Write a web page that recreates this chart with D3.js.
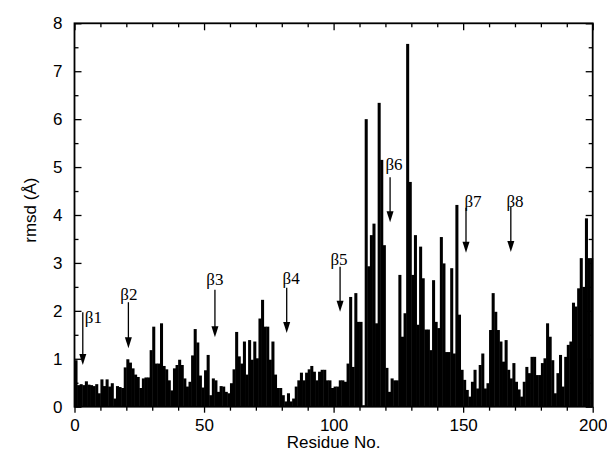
<!DOCTYPE html>
<html>
<head>
<meta charset="utf-8">
<script src="https://cdn.jsdelivr.net/npm/d3@7/dist/d3.min.js"></script>
<style>
	body { margin: 0; background: #fff; }
	.tick text { font-family: "Liberation Sans", Arial, sans-serif; font-size: 17px; fill: #000; }
	.domain { display: none; }
</style>
</head>
<body>
<div id="chart"></div>
<script>

// rmsd per residue (bar i covers residue i .. i+1)
var rmsd = [
	0.97, 0.45, 0.47, 0.45, 0.53, 0.46, 0.45, 0.43, 0.47, 0.28,
	0.57, 0.43, 0.57, 0.42, 0.49, 0.17, 0.43, 0.41, 0.39, 0.82,
	0.99, 0.92, 0.80, 0.67, 0.62, 0.39, 0.59, 0.61, 0.61, 1.18,
	1.67, 0.90, 0.90, 1.74, 0.85, 0.78, 0.55, 0.34, 0.80, 0.87,
	0.98, 0.87, 0.59, 0.42, 0.52, 1.07, 1.62, 1.34, 0.65, 0.40,
	0.76, 1.08, 0.24, 0.59, 0.55, 0.31, 0.43, 0.42, 0.31, 0.28,
	0.49, 0.78, 1.56, 1.05, 0.90, 1.36, 0.67, 1.39, 0.98, 1.36,
	1.01, 1.84, 2.23, 1.67, 1.67, 0.98, 1.36, 0.67, 0.39, 0.39,
	0.24, 0.11, 0.28, 0.11, 0.17, 0.42, 0.55, 0.71, 0.55, 0.71,
	0.78, 0.85, 0.73, 0.55, 0.73, 0.77, 0.77, 0.55, 0.55, 0.39,
	0.42, 0.42, 0.55, 0.55, 0.52, 0.90, 2.29, 0.83, 2.37, 1.77,
	1.77, 0.03, 6.00, 2.93, 3.58, 3.82, 1.74, 6.34, 5.15, 3.37,
	0.81, 0.31, 0.59, 0.55, 0.55, 2.75, 1.46, 1.95, 7.57, 4.69,
	2.75, 3.58, 1.71, 3.34, 2.68, 1.61, 1.61, 1.18, 2.64, 1.77,
	1.64, 3.54, 2.99, 1.14, 1.14, 2.89, 1.11, 4.21, 1.92, 0.77,
	0.56, 0.35, 0.21, 0.52, 0.77, 0.38, 0.87, 1.11, 0.38, 0.49,
	1.60, 2.37, 1.98, 1.60, 1.36, 0.94, 1.39, 0.77, 0.59, 0.91,
	0.52, 0.36, 0.21, 0.52, 0.83, 0.70, 1.04, 1.04, 0.66, 0.66,
	0.91, 1.01, 1.74, 1.46, 0.97, 0.28, 0.70, 1.08, 0.42, 1.04,
	1.29, 1.36, 2.17, 2.09, 2.47, 3.10, 2.50, 3.93, 3.10, 3.10
]

var xTicks = [0, 50, 100, 150, 200]
var xMinorTicks = [10, 20, 30, 40, 60, 70, 80, 90, 110, 120, 130, 140, 160, 170, 180, 190]
var yTicks = [0, 1, 2, 3, 4, 5, 6, 7, 8]
var yMinorTicks = [0.5, 1.5, 2.5, 3.5, 4.5, 5.5, 6.5, 7.5]

// beta strand annotations (data space)
var strandLabels = ["β1", "β2", "β3", "β4", "β5", "β6", "β7", "β8"]
var arrowRes = [3.2, 20.8, 54.2, 81.9, 102.5, 121.8, 151.1, 168.4]
var arrowTop = [1.97, 2.18, 2.44, 2.48, 2.92, 4.79, 4.15, 4.17]
var arrowTip = [0.87, 1.22, 1.45, 1.54, 1.98, 3.85, 3.21, 3.23]
var labelRes = [7.3, 21.0, 54.2, 83.6, 102.1, 123.3, 153.8, 170.0]
var labelVal = [1.75, 2.23, 2.54, 2.56, 2.96, 4.94, 4.17, 4.17]

var width = 607
var height = 461
var margin = {top: 23.3, right: 14.3, bottom: 54.3, left: 74.5}

var svg = d3.select("#chart").append("svg")
	.attr("width", width)
	.attr("height", height)

var x = d3.scaleLinear().domain([0, 200]).range([margin.left, width - margin.right])
var y = d3.scaleLinear().domain([0, 8]).range([height - margin.bottom, margin.top])

// bars, slight overlap so neighbours read as one solid mass
svg.append("g")
	.selectAll("rect")
	.data(rmsd)
	.enter().append("rect")
	.attr("x", function(d, i) { return x(i) })
	.attr("width", function(d, i) { return x(i + 1) - x(i) + 0.45 })
	.attr("y", function(d) { return y(d) })
	.attr("height", function(d) { return y(0) - y(d) })
	.attr("fill", "#000")

// axes: bottom ticks out, others in
svg.append("g")
	.attr("transform", "translate(0," + y(0) + ")")
	.call(d3.axisBottom(x).tickValues(xTicks).tickSize(6).tickPadding(6).tickFormat(d3.format("d")))
svg.append("g")
	.attr("transform", "translate(0," + y(0) + ")")
	.call(d3.axisBottom(x).tickValues(xMinorTicks).tickSize(4).tickFormat(""))

svg.append("g")
	.attr("transform", "translate(0," + y(8) + ")")
	.call(d3.axisTop(x).tickValues(xTicks).tickSize(-7).tickFormat(""))
svg.append("g")
	.attr("transform", "translate(0," + y(8) + ")")
	.call(d3.axisTop(x).tickValues(xMinorTicks).tickSize(-4).tickFormat(""))

svg.append("g")
	.attr("transform", "translate(" + x(0) + ",0)")
	.call(d3.axisLeft(y).tickValues(yTicks).tickSize(-7).tickPadding(12).tickFormat(d3.format("d")))
svg.append("g")
	.attr("transform", "translate(" + x(0) + ",0)")
	.call(d3.axisLeft(y).tickValues(yMinorTicks).tickSize(-4).tickFormat(""))

svg.append("g")
	.attr("transform", "translate(" + x(200) + ",0)")
	.call(d3.axisRight(y).tickValues(yTicks).tickSize(-7).tickFormat(""))
svg.append("g")
	.attr("transform", "translate(" + x(200) + ",0)")
	.call(d3.axisRight(y).tickValues(yMinorTicks).tickSize(-4).tickFormat(""))

svg.selectAll(".tick line").attr("stroke", "#000").attr("stroke-width", 1.3)

// frame
svg.append("rect")
	.attr("x", x(0))
	.attr("y", y(8))
	.attr("width", x(200) - x(0))
	.attr("height", y(0) - y(8))
	.attr("fill", "none")
	.attr("stroke", "#000")
	.attr("stroke-width", 1.8)

// axis titles
svg.append("text")
	.attr("x", (x(0) + x(200)) / 2)
	.attr("y", 448)
	.attr("text-anchor", "middle")
	.style("font-family", "Liberation Sans, Arial, sans-serif")
	.style("font-size", "17px")
	.text("Residue No.")

svg.append("text")
	.attr("transform", "translate(36," + y(4.1) + ") rotate(-90)")
	.attr("text-anchor", "middle")
	.style("font-family", "Liberation Sans, Arial, sans-serif")
	.style("font-size", "17px")
	.text("rmsd (Å)")

// strand arrows
var ann = svg.append("g")

strandLabels.forEach(function(lab, i) {
	var ax = x(arrowRes[i])
	var tip = y(arrowTip[i])
	ann.append("line")
		.attr("x1", ax).attr("x2", ax)
		.attr("y1", y(arrowTop[i])).attr("y2", tip - 8)
		.attr("stroke", "#000")
		.attr("stroke-width", 1.3)
	ann.append("path")
		.attr("d", "M" + (ax - 3.5) + "," + (tip - 11) + "L" + (ax + 3.5) + "," + (tip - 11) + "L" + ax + "," + tip + "Z")
		.attr("fill", "#000")
	ann.append("text")
		.attr("x", x(labelRes[i]))
		.attr("y", y(labelVal[i]))
		.attr("text-anchor", "middle")
		.style("font-family", "Liberation Serif, Times New Roman, serif")
		.style("font-size", "17px")
		.text(lab)
})

</script>
</body>
</html>
